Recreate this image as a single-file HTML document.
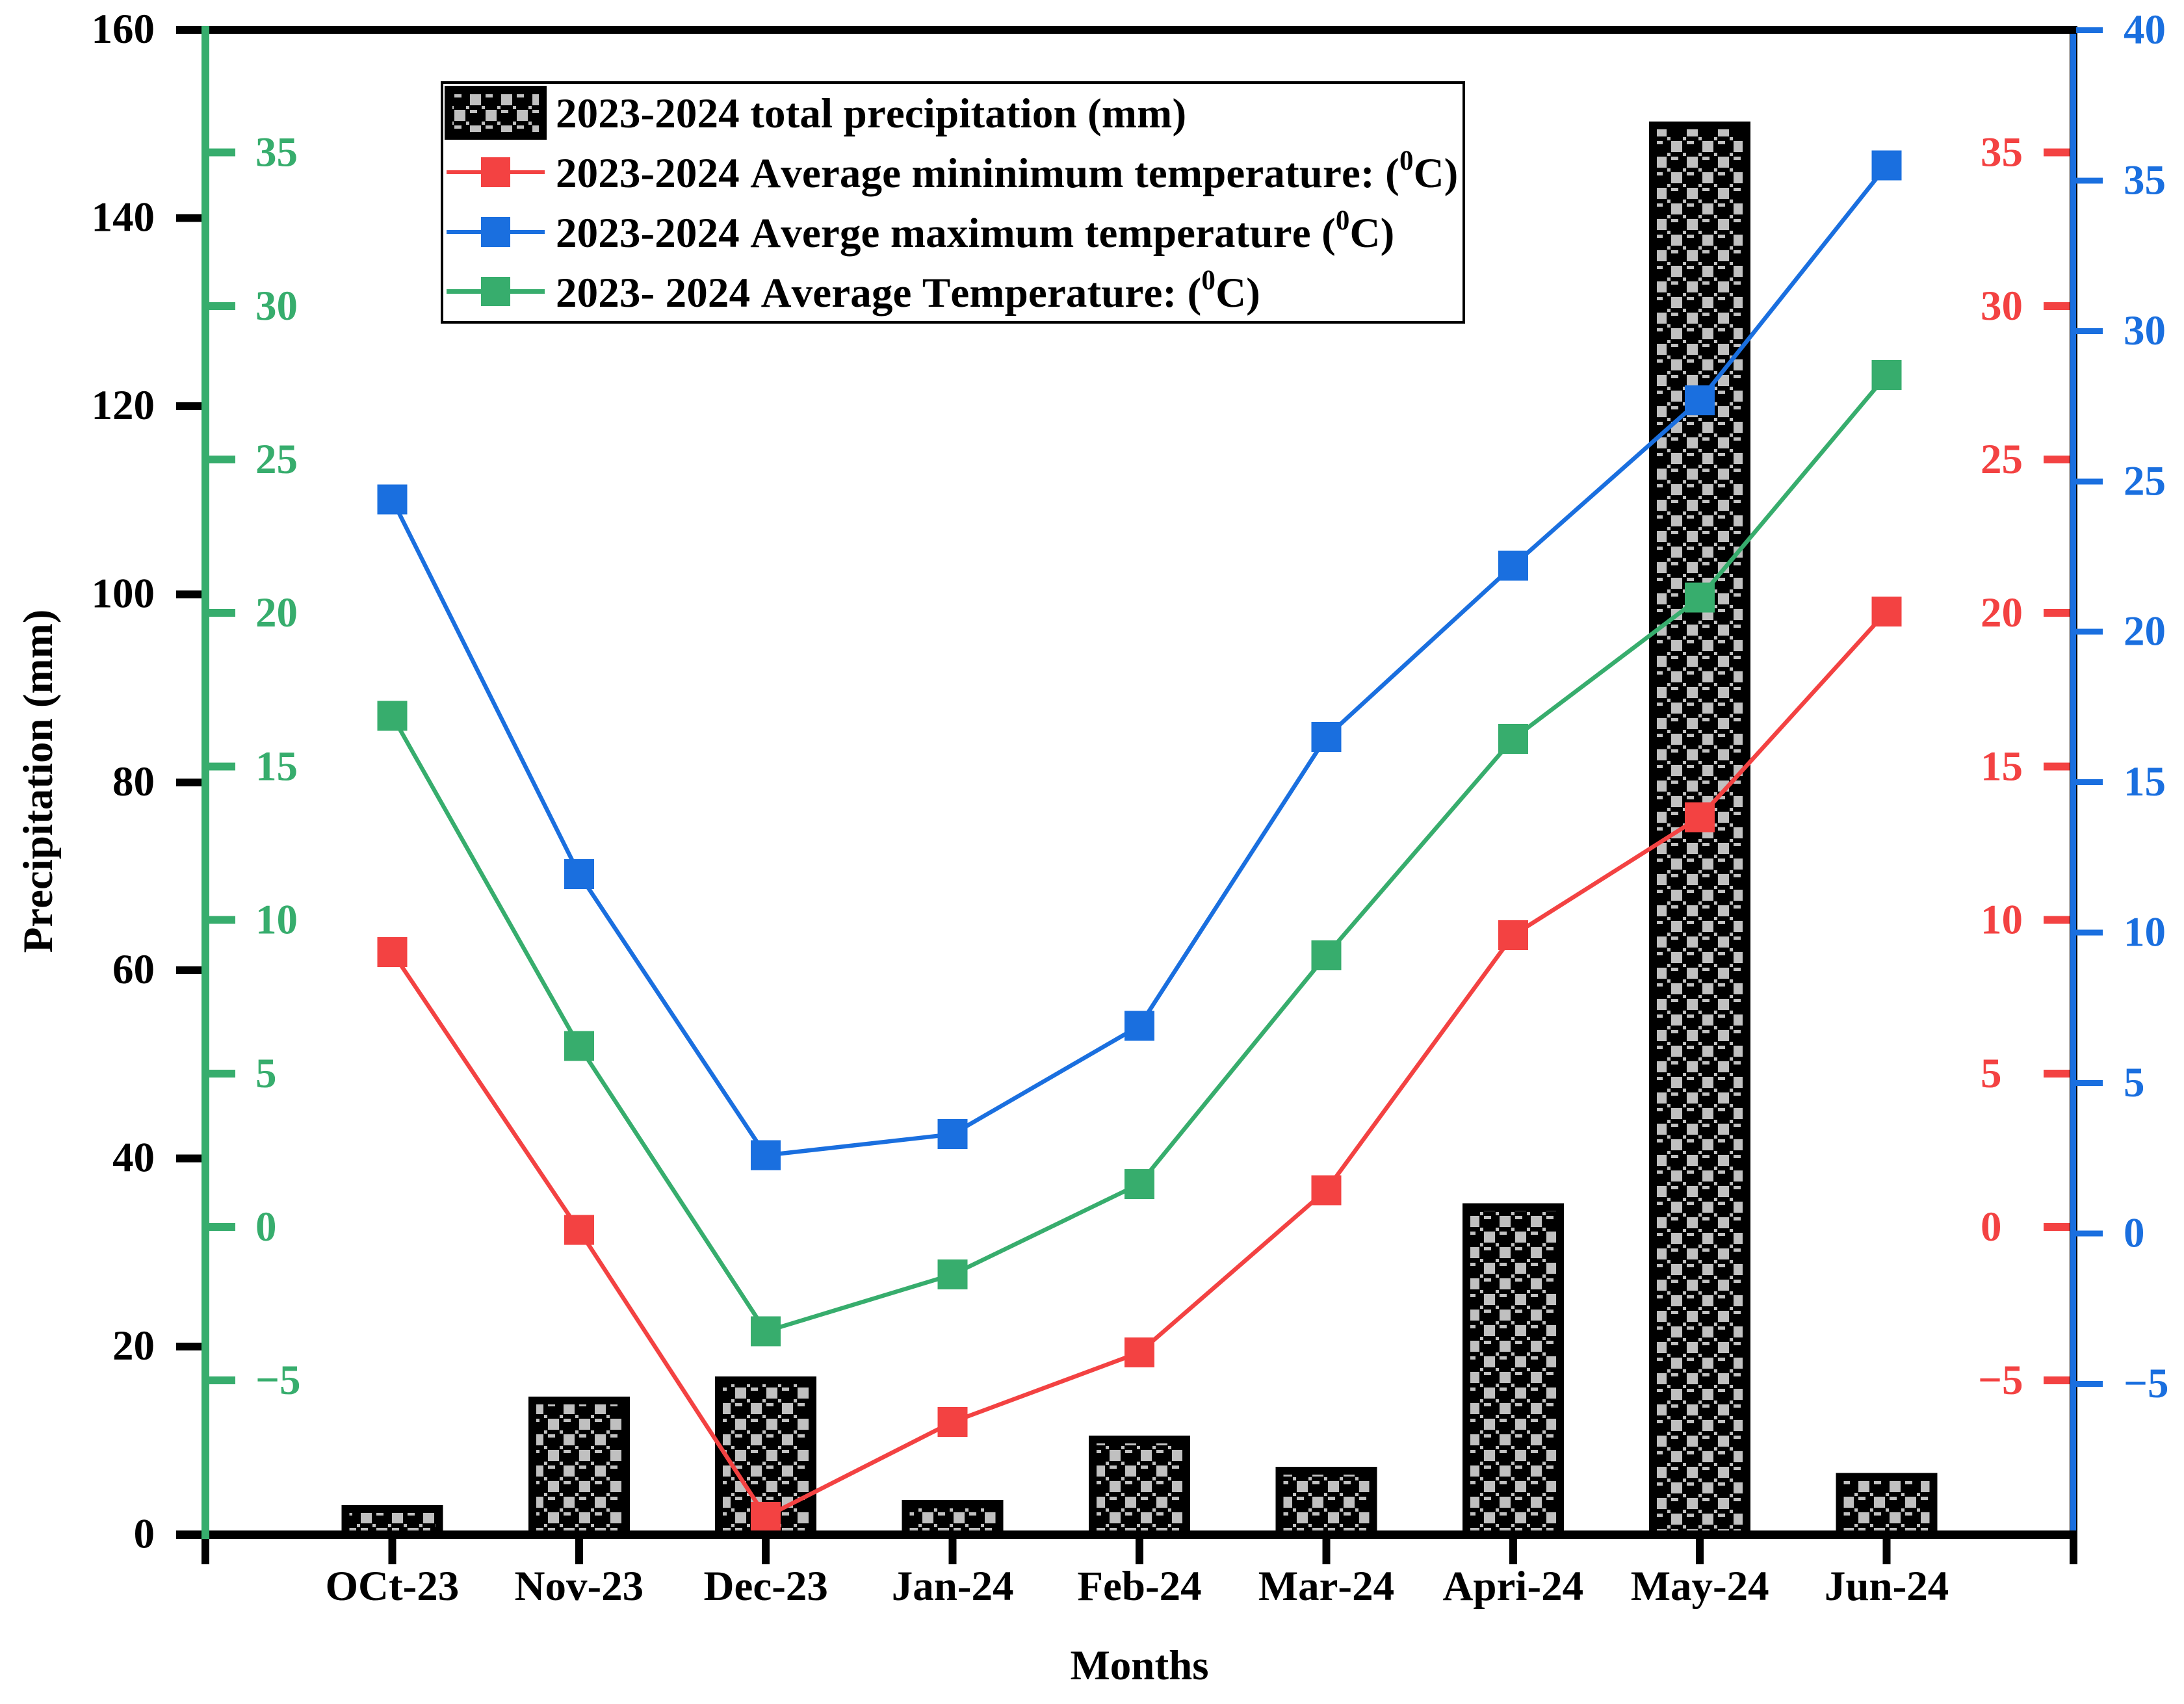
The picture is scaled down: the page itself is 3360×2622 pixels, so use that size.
<!DOCTYPE html>
<html lang="en">
<head>
<meta charset="utf-8">
<title>Precipitation and temperature, Oct 2023 to Jun 2024</title>
<style>
html,body{margin:0;padding:0;background:#fff;}
svg{display:block;}
text{font-family:"Liberation Serif",serif;font-weight:700;font-size:65px;font-kerning:none;font-feature-settings:"kern" 0;}
.legend-label{letter-spacing:0.13px;}
.crisp{shape-rendering:crispEdges;}
</style>
</head>
<body>
<svg id="chart" xmlns="http://www.w3.org/2000/svg" width="3360" height="2622" viewBox="0 0 3360 2622">
  <defs>
    <pattern id="hatch" patternUnits="userSpaceOnUse" x="21" y="17" width="48" height="48">
      <rect class="crisp" width="48" height="48" fill="#000"/>
      <g class="crisp" fill="#c0c0c0">
        <rect x="6" y="6" width="17" height="17"/><rect x="30" y="30" width="17" height="17"/>
        <rect x="30" y="6" width="11" height="5"/><rect x="6" y="30" width="11" height="5"/>
        <rect x="0" y="0" width="5" height="5"/><rect x="24" y="0" width="5" height="5"/>
        <rect x="0" y="24" width="5" height="5"/><rect x="24" y="24" width="5" height="5"/>
      </g>
    </pattern>
    <pattern id="hatch-top" patternUnits="userSpaceOnUse" x="21" y="19" width="48" height="48">
      <rect class="crisp" width="48" height="48" fill="#000"/>
      <g class="crisp" fill="#c0c0c0">
        <rect x="6" y="6" width="17" height="17"/><rect x="30" y="30" width="17" height="17"/>
        <rect x="30" y="6" width="11" height="5"/><rect x="6" y="30" width="11" height="5"/>
        <rect x="0" y="0" width="5" height="5"/><rect x="24" y="0" width="5" height="5"/>
        <rect x="0" y="24" width="5" height="5"/><rect x="24" y="24" width="5" height="5"/>
      </g>
    </pattern>
  </defs>
  <rect width="3360" height="2622" fill="#fff"/>
  <g id="bars"></g>
  <g id="series"></g>
  <g id="axes"></g>

  <text x="1753" y="2584" text-anchor="middle">Months</text>
  <text x="80" y="1202" text-anchor="middle" transform="rotate(-90 80 1202)">Precipitation (mm)</text>

  <g>
    <rect class="crisp" x="680" y="127" width="1572" height="369" fill="#fff" stroke="#000" stroke-width="4"/>
    <g>
      <rect class="crisp" x="684" y="132" width="157" height="83" fill="#000"/>
      <rect class="crisp" x="696" y="145" width="133" height="58" fill="url(#hatch-top)"/>
      <text class="legend-label" x="855" y="196">2023-2024 total precipitation (mm)</text>
    </g>
    <g>
      <rect class="crisp" x="687" y="262" width="151" height="6" fill="#f34242"/>
      <rect class="crisp" x="740" y="242" width="45" height="46" fill="#f34242"/>
      <text class="legend-label" x="855" y="288">2023-2024 Average mininimum temperature: (<tspan font-size="43" dy="-27">0</tspan><tspan dy="27">C)</tspan></text>
    </g>
    <g>
      <rect class="crisp" x="687" y="354" width="151" height="6" fill="#1a6fdf"/>
      <rect class="crisp" x="740" y="334" width="45" height="46" fill="#1a6fdf"/>
      <text class="legend-label" x="855" y="380">2023-2024 Averge maximum temperature (<tspan font-size="43" dy="-27">0</tspan><tspan dy="27">C)</tspan></text>
    </g>
    <g>
      <rect class="crisp" x="687" y="445" width="151" height="7" fill="#37ad6d"/>
      <rect class="crisp" x="740" y="426" width="45" height="45" fill="#37ad6d"/>
      <text class="legend-label" x="855" y="472">2023- 2024 Average Temperature: (<tspan font-size="43" dy="-27">0</tspan><tspan dy="27">C)</tspan></text>
    </g>
  </g>
</svg>
<script>
const categories = ['OCt-23', 'Nov-23', 'Dec-23', 'Jan-24', 'Feb-24', 'Mar-24', 'Apri-24', 'May-24', 'Jun-24'];
const precipitation = [3.14, 14.69, 16.83, 3.70, 10.54, 7.22, 35.25, 150.27, 6.55];
const minTemperature = [8.95, -0.1, -9.44, -6.35, -4.09, 1.2, 9.5, 13.35, 20.05];
const maxTemperature = [24.4, 11.95, 2.6, 3.3, 6.9, 16.5, 22.2, 27.7, 35.5];
const avgTemperature = [16.65, 5.9, -3.4, -1.55, 1.4, 8.85, 15.9, 20.5, 27.75];
const precipitationTicks = [0, 20, 40, 60, 80, 100, 120, 140, 160];
const averageTicks = [-5, 0, 5, 10, 15, 20, 25, 30, 35];
const minimumTicks = [-5, 0, 5, 10, 15, 20, 25, 30, 35];
const maximumTicks = [-5, 0, 5, 10, 15, 20, 25, 30, 35, 40];

const RED = '#f34242', BLUE = '#1a6fdf', GREEN = '#37ad6d';
const NS = 'http://www.w3.org/2000/svg';
const BASE_Y = 2361.5, TOP_Y = 46, AXIS_TOP = 2355;

function xPos(i) { return 316 + (i + 1) * 287.4; }
function yPrecip(v) { return BASE_Y - (v / 160) * (BASE_Y - TOP_Y); }
function yRedGreen(v) { return 1888 - v * 47.24; }
function yBlue(v) { return 1898 - v * 46.29; }

function mk(parent, tag, attrs, txt) {
  const el = document.createElementNS(NS, tag);
  for (const k in attrs) el.setAttribute(k, attrs[k]);
  if (txt !== undefined) el.textContent = txt;
  parent.appendChild(el);
  return el;
}
function bar(parent, x, y, w, h, fill) {
  const el = mk(parent, 'rect', {x: x, y: y, width: w, height: h, fill: fill});
  el.setAttribute('class', 'crisp');
  return el;
}

const barsG = document.getElementById('bars');
precipitation.forEach(function (v, i) {
  const top = yPrecip(v);
  const left = xPos(i) - 78;
  const outer = bar(barsG, left, top, 156, BASE_Y - top, '#000');
  
  
  const hatchId = v > 100 ? 'hatch-top' : 'hatch';
  const inner = bar(barsG, left + 12, top + 12, 132, Math.max(0, AXIS_TOP - top - 12), 'url(#' + hatchId + ')');
  
  
});

function drawSeries(values, scale, color, name) {
  const g = mk(document.getElementById('series'), 'g', {});
  
  
  const pts = values.map(function (v, i) { return xPos(i) + ',' + scale(v); }).join(' ');
  const line = mk(g, 'polyline', {points: pts, fill: 'none', stroke: color, 'stroke-width': 6.5, 'stroke-linejoin': 'miter'});
  
  
  values.forEach(function (v, i) {
    const m = bar(g, xPos(i) - 23, scale(v) - 23, 46, 46, color);
    
    
  });
}
drawSeries(minTemperature, yRedGreen, RED, 'minimum');
drawSeries(maxTemperature, yBlue, BLUE, 'maximum');
drawSeries(avgTemperature, yRedGreen, GREEN, 'average');

const axes = document.getElementById('axes');

/* top and bottom frame */
const frameTop = bar(axes, 271, 40, 2925, 12, '#000');


const rightBlack = bar(axes, 3184, 40, 12, 2328, '#000');


const blueAxis = bar(axes, 3185, 52, 9, 2303, BLUE);


const frameBottom = bar(axes, 271, 2355, 2925, 13, '#000');


const greenAxis = bar(axes, 310, 40, 12, 2328, GREEN);



/* x ticks, including both axis ends */
for (let i = -1; i <= categories.length; i++) {
  const t = bar(axes, xPos(i) - 6, 2368, 12, 39, '#000');
  
  
}
categories.forEach(function (c, i) {
  const t = mk(axes, 'text', {x: xPos(i), y: 2462, 'text-anchor': 'middle'}, c);
  
  
});

function fmt(v) { return v < 0 ? '\u2212' + Math.abs(v) : String(v); }

precipitationTicks.forEach(function (v) {
  const y = yPrecip(v);
  if (v > 0 && v < 160) {
    const t = bar(axes, 271, y - 6, 39, 12, '#000');
    
    
  }
  const l = mk(axes, 'text', {x: 238, y: y + 20, 'text-anchor': 'end', fill: '#000'}, String(v));
  
  
});

averageTicks.forEach(function (v) {
  const y = yRedGreen(v);
  const t = bar(axes, 322, y - 6, 40, 12, GREEN);
  
  
  const l = mk(axes, 'text', {x: 393, y: y + 21, fill: GREEN}, fmt(v));
  
  
});

minimumTicks.forEach(function (v) {
  const y = yRedGreen(v);
  const t = bar(axes, 3144, y - 6, 40, 12, RED);
  
  
  const l = mk(axes, 'text', {x: v < 0 ? 3043 : 3047, y: y + 21, fill: RED}, fmt(v));
  
  
});

maximumTicks.forEach(function (v) {
  const y = yBlue(v);
  const t = bar(axes, 3194, y - 4.5, 41, 9, BLUE);
  
  
  const l = mk(axes, 'text', {x: 3267, y: y + 20.5, fill: BLUE}, fmt(v));
  
  
});
</script>
</body>
</html>
